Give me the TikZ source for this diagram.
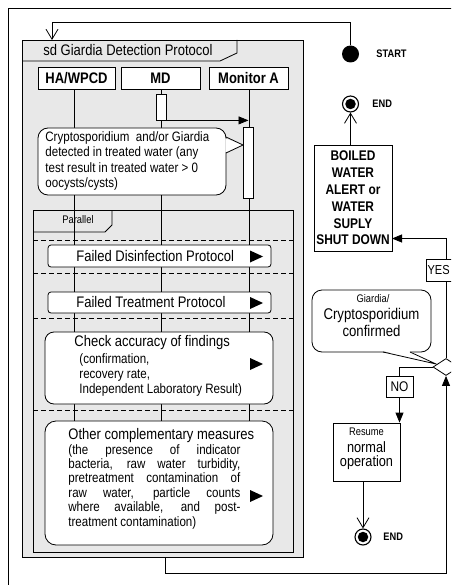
\documentclass[tikz,border=0pt]{standalone}
\usepackage{fontspec}
\setmainfont{Liberation Sans}[FakeStretch=0.85]
\usetikzlibrary{arrows.meta,shapes.geometric}
\newcommand{\myfs}[2]{\fontsize{#1}{#2}\selectfont}
\definecolor{framegray}{RGB}{232,232,232}
\begin{document}
\begin{tikzpicture}[x=1pt,y=-1pt,line width=0.8pt,
  barb/.style={-{Straight Barb[length=10pt,width=12pt]}},
  tri/.style={-{Triangle[length=10pt,width=8pt]}},
  head/.style={draw,fill=white,minimum height=22pt,inner sep=0,font=\bfseries\myfs{15.3}{18}},
  lane/.style={draw,fill=white,inner sep=0},
  txt/.style={inner sep=0},
  big/.style={font=\myfs{15.3}{18}},
  small/.style={font=\myfs{13.6}{15.3}},
  bullring/.style={circle,draw,line width=1.1pt,fill=white,minimum size=16pt,inner sep=0},
  bulldot/.style={circle,fill=black,minimum size=10.5pt,inner sep=0},
  lbl/.style={anchor=west,inner sep=0,font=\bfseries\myfs{10.9}{13}}]
\useasboundingbox (0,0) rectangle (451,585);
\clip (0,0) rectangle (451,585);
% outer frame
\draw (8,600) -- (8,8) -- (470,8);
% sd frame
\draw[fill=framegray] (22,40) rectangle (303,557);
\draw (22,61) -- (220,61) -- (237,53) -- (237,40);
\node[txt,anchor=west,big] (sdt) at (43,50) {sd Giardia Detection Protocol};
% parallel frame
\draw (33,210) rectangle (293,552);
\draw (33,232) -- (105,232) -- (112,225) -- (112,210);
\node[txt,font=\myfs{11}{13}] (part) at (78,220) {Parallel};
\foreach \yy in {240,273,318,410}
  \draw[dash pattern=on 5pt off 3pt] (33,\yy) -- (293,\yy);
% heads
\node[head,minimum width=77pt] (ha) at (76.5,78) {HA/WPCD};
\node[head,minimum width=79pt] (md) at (160.5,78) {MD};
\node[head,minimum width=79pt] (mon) at (248.5,78) {Monitor A};
% lifelines
\coordinate (l1) at (74,421);
\coordinate (l2) at (161,421);
\coordinate (l3) at (249,421);
\draw (ha.south -| l1) -- (l1);
\draw (md.south -| l2) -- (l2);
\draw (mon.south -| l3) -- (l3);
% activations
\node[draw,fill=white,minimum width=10pt,minimum height=26pt,inner sep=0] (act1) at (161,107) {};
\node[draw,fill=white,minimum width=10pt,minimum height=71pt,inner sep=0] (act2) at (248,162.5) {};
\draw[tri] (act1.south east) -- (act1.south east -| mon.south);
% callout 1
\draw[fill=white,rounded corners=10pt] (38,128) rectangle (226,195);
\fill[white] (225.4,138.5) -- (243,145) -- (225.4,152.5) -- cycle;
\draw (226,137) -- (243,145) -- (226,153);
\node[txt,anchor=west,align=left,small] (ct) at (45,161)
  {Cryptosporidium\ \ and/or Giardia\\detected in treated water (any\\test result in treated water > 0\\oocysts/cysts)};
% lanes
\node[lane,rounded corners=3pt,minimum width=223pt,minimum height=22pt] (fd) at (159.5,256) {};
\node[txt,anchor=west,big] (fdt) at (76,256) {Failed Disinfection Protocol};
\fill (250,250.5) -- (263,256.5) -- (250,262.5) -- cycle;
\node[lane,rounded corners=3pt,minimum width=223pt,minimum height=21pt] (ft) at (159.5,302.5) {};
\node[txt,anchor=west,big] (ftt) at (76,302.5) {Failed Treatment Protocol};
\fill (250,297) -- (263,303) -- (250,309) -- cycle;
\node[lane,rounded corners=9pt,minimum width=228pt,minimum height=72pt] (ck) at (159,368) {};
\node[txt,anchor=west,big] (ck1) at (74,343) {Check accuracy of findings};
\node[txt,anchor=west,align=left,font=\myfs{13.6}{15}] (ck2) at (79,375)
  {(confirmation,\\recovery rate,\\Independent Laboratory Result)};
\fill (250,358) -- (263,364) -- (250,370) -- cycle;
\node[lane,rounded corners=11pt,minimum width=228pt,minimum height=124pt] (ot) at (159,483) {};
\node[txt,anchor=west,big] (ot1) at (68,436) {Other complementary measures};
\node[txt,anchor=west,align=left,font=\myfs{13.6}{14.4}] (ot2) at (68,486.5)
  {\makebox[172pt][s]{(the presence of indicator}\\
   \makebox[172pt][s]{bacteria, raw water turbidity,}\\
   \makebox[172pt][s]{pretreatment contamination of}\\
   \makebox[172pt][s]{raw water, particle counts}\\
   \makebox[172pt][s]{where available, and post-}\\
   treatment contamination)};
\fill (250,490) -- (263,496) -- (250,502) -- cycle;
% right side
\node[circle,fill=black,minimum size=17pt,inner sep=0] (start) at (350.5,54) {};
\node[lbl] (startt) at (376,54) {START};
\node[bullring] (end1) at (350.5,104) {};
\node[bulldot] (end1d) at (end1) {};
\node[lbl] (end1t) at (372,104) {END};
\node[draw,fill=white,minimum width=78pt,minimum height=106pt,inner sep=0,align=center,
  font=\bfseries\myfs{14}{16.8}] (boiled) at (353,198)
  {BOILED\\WATER\\ALERT or\\WATER\\SUPLY\\SHUT DOWN};
\draw[barb] (end1.south |- boiled.north) -- (end1.south);
% giardia callout
\draw[fill=white,rounded corners=10pt] (312,290) rectangle (431,352);
\fill[white] (383.5,351.2) -- (436,364) -- (409.5,351.2) -- cycle;
\draw (383,352) -- (436,364) -- (410,352);
\node[txt,font=\myfs{11}{13}] (g1) at (373,299) {Giardia/};
\node[txt,font=\myfs{15.5}{17}] (g2) at (371.5,315) {Cryptosporidium};
\node[txt,font=\myfs{15.5}{17}] (g3) at (371.5,331) {confirmed};
% decision
\node[diamond,draw,fill=white,minimum width=26pt,minimum height=17pt,inner sep=0] (dia) at (446,367) {};
\coordinate (bin) at (392,238.5);
\draw[tri] (dia.north) |- (bin);
\node[draw,fill=white,anchor=west,minimum height=22pt,inner xsep=1.2pt,inner ysep=0,
  text width=30pt,align=left,font=\myfs{13}{15}] (yes) at (426,270) {YES};
% NO branch
\node[draw,fill=white,minimum width=27pt,minimum height=21pt,inner sep=0,font=\myfs{14}{16}] (no) at (399.5,386.5) {NO};
\node[draw,fill=white,minimum width=67pt,minimum height=58pt,inner sep=0] (resume) at (366.5,452) {};
\node[txt,font=\myfs{11}{13}] (r1) at (366.5,432) {Resume};
\node[txt,font=\myfs{15}{17}] (r2) at (366.5,447.5) {normal};
\node[txt,font=\myfs{15}{17}] (r3) at (366.5,463) {operation};
\draw (dia.west) -| (no.north);
\draw[tri] (no.south) -- (no.south |- resume.north);
\node[bullring] (end2) at (363,537) {};
\node[bulldot] (end2d) at (end2) {};
\node[lbl] (end2t) at (383,537) {END};
\draw[barb] (resume.south -| end2) -- (end2.north);
% loops
\coordinate (loopc) at (52,22);
\coordinate (sdin) at (52,40);
\draw[barb] (start.north) |- (loopc) -- (sdin);
\coordinate (sdout) at (165,557);
\coordinate (bot) at (165,573);
\draw[tri] (sdout) -- (bot) -| (dia.south);
\end{tikzpicture}
\end{document}
